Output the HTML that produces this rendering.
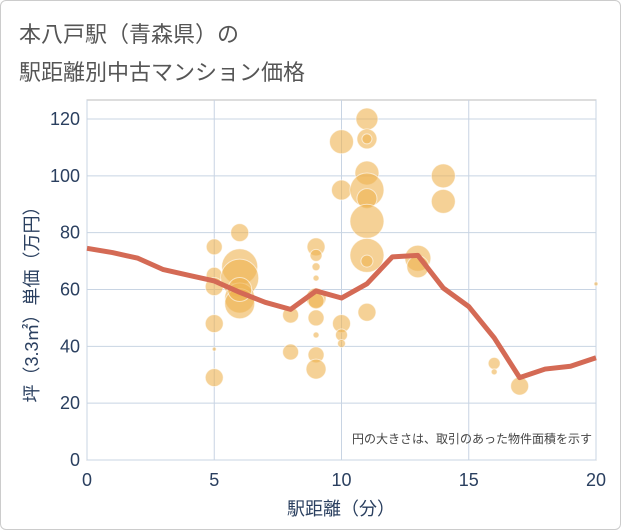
<!DOCTYPE html>
<html><head><meta charset="utf-8"><style>
body{margin:0;background:#fff;font-family:"Liberation Sans","Noto Sans CJK JP",sans-serif;}
#wrap{position:relative;width:619px;height:528px;border:1px solid #ccc;border-radius:6px;overflow:hidden;}
.title{position:absolute;left:18px;font-size:22px;color:#555;white-space:nowrap;}
</style></head><body>
<div id="wrap">
<div class="title" style="top:16px">本八戸駅（青森県）の</div>
<div class="title" style="top:54px">駅距離別中古マンション価格</div>
<svg id="chart" width="621" height="530" style="position:absolute;left:-1px;top:-1px"></svg>
</div>
<script>
const xTicks=[0,5,10,15,20];
const yTicks=[0,20,40,60,80,100,120];
const bubbleX=[5,5,5,5,5,5,6,6,6,6,6,6,8,8,9,9,9,9,9,9,9,9,9,9,10,10,10,10,10,11,11,11,11,11,11,11,11,11,11,13,13,14,14,16,16,17,20];
const bubbleY=[75,65,61,48,39,29,80,68,64,57,55,60,51,38,75,72,68,64,57,56,50,44,37,32,112,95,48,44,41,120,113,113,101,95,92,84,72,70,52,71,68,100,91,34,31,26,62];
const bubbleR=[8,8,9,9,2,9,9,18,19,15,15,12,8,8,9,6,4,3,10,8,8,3,8,10,12,10,9,6,4,11,10,5,12,17,10,17,17,6,9,13,11,12,12,6,3,9,2];
const lineX=[0,1,2,3,4,5,6,7,8,9,10,11,12,13,14,15,16,17,18,19,20];
const lineY=[74.5,73,71,67,65,63,59,55.5,53,59.5,57,62,71.5,72,60.5,54,43,29,32,33,36];
const X0=87,X1=596,Y0=460,Y1=119;
const sx=v=>X0+(X1-X0)*v/20;
const sy=v=>Y0-(Y0-Y1)*v/120;
const svg=document.getElementById('chart');
const NS='http://www.w3.org/2000/svg';
function mk(t,a){const e=document.createElementNS(NS,t);for(const k in a)e.setAttribute(k,a[k]);svg.appendChild(e);return e;}
let e=mk('rect',{x:X0,y:100,width:X1-X0,height:Y0-100,fill:'#fff',stroke:'#bbb'});


xTicks.forEach(t=>{
 let g=mk('line',{x1:sx(t),x2:sx(t),y1:100,y2:Y0,stroke:'#c8d4e3','stroke-width':1});
 
 
 let l=mk('text',{x:sx(t),y:486,'text-anchor':'middle','font-size':18,fill:'#2a3f5f'});
 l.textContent=t;
 
 
});
yTicks.forEach(t=>{
 let g=mk('line',{x1:X0,x2:X1,y1:sy(t),y2:sy(t),stroke:'#c8d4e3','stroke-width':1});
 
 
 let l=mk('text',{x:80,y:sy(t)+6,'text-anchor':'end','font-size':18,fill:'#2a3f5f'});
 l.textContent=t;
 
 
});
bubbleX.forEach((v,i)=>{
 let c=mk('circle',{cx:sx(v),cy:sy(bubbleY[i]),r:bubbleR[i],fill:'rgba(238,178,80,0.6)',stroke:'rgba(255,255,255,0.6)','stroke-width':1});
 
 
});
let p=mk('polyline',{points:lineX.map((v,i)=>sx(v)+','+sy(lineY[i])).join(' '),fill:'none',stroke:'#d46a55','stroke-width':5,'stroke-linejoin':'round'});


let n=mk('text',{x:592,y:443,'text-anchor':'end','font-size':12,fill:'#444'});
n.textContent='円の大きさは、取引のあった物件面積を示す';


let xt=mk('text',{x:341,y:515,'text-anchor':'middle','font-size':18,fill:'#2a3f5f'});
xt.textContent='駅距離（分）';


let yt=mk('text',{x:0,y:0,'text-anchor':'middle','font-size':18,fill:'#2a3f5f',transform:'translate(38,300) rotate(-90)'});
yt.textContent='坪（3.3㎡）単価（万円）';


</script>
</body></html>
